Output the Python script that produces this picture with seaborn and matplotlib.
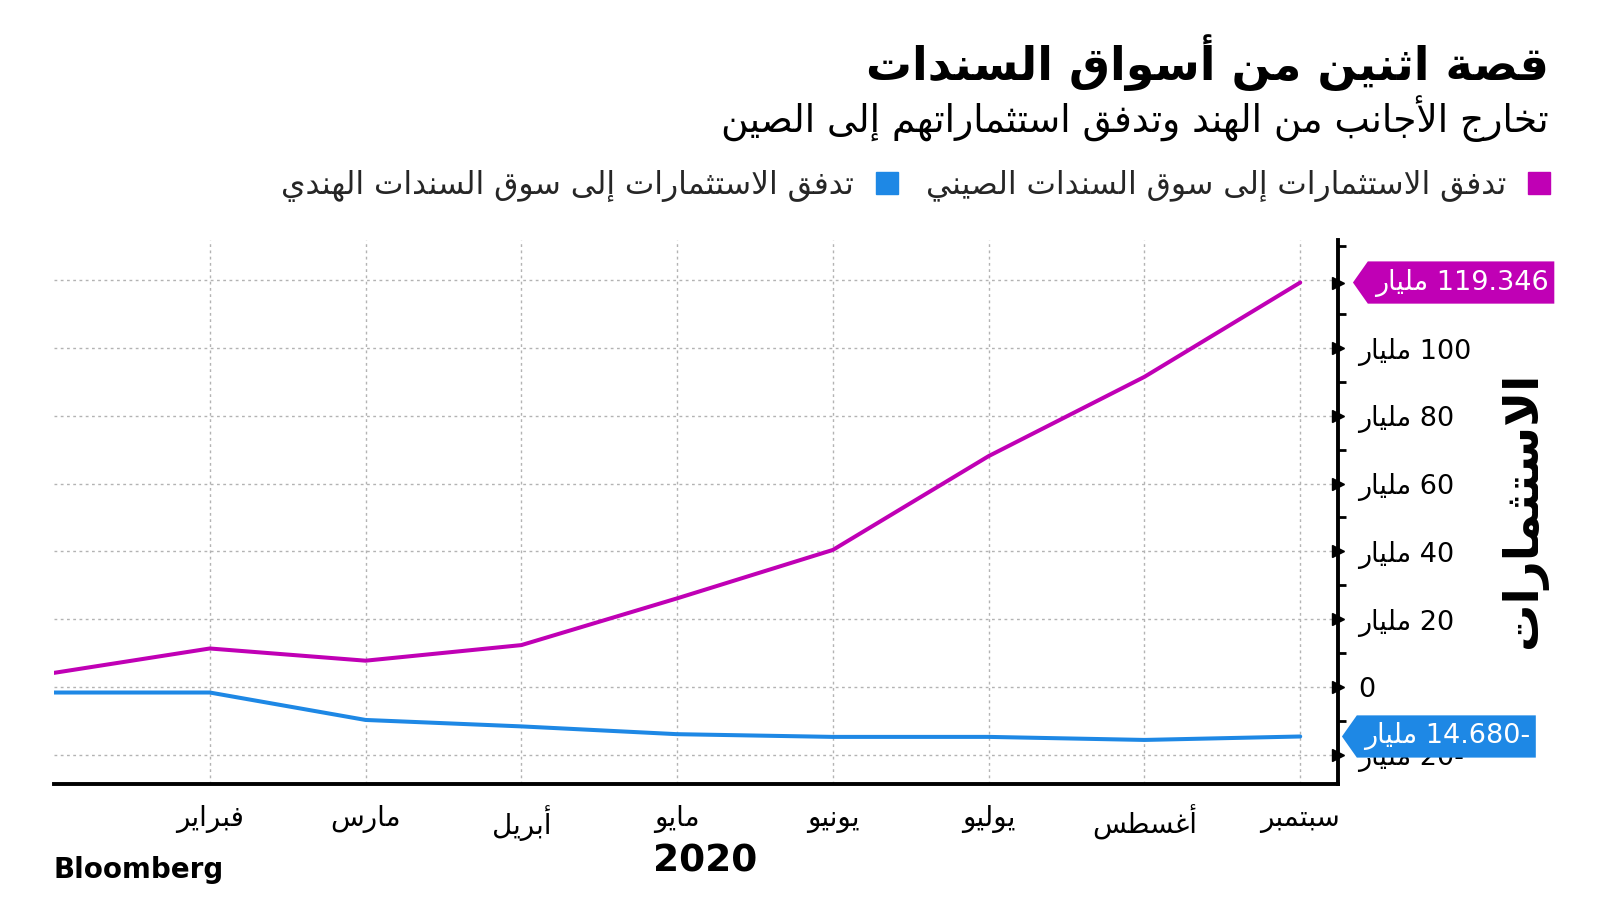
import matplotlib
matplotlib.use("Agg")

import matplotlib.pyplot as plt
import matplotlib.transforms as mtransforms
from matplotlib.patches import Patch
from matplotlib.path import Path
from matplotlib.ticker import FixedLocator
import pandas as pd
import seaborn as sns

# data (billions)
months = ["يناير", "فبراير", "مارس", "أبريل", "مايو", "يونيو", "يوليو", "أغسطس", "سبتمبر"]
china_flow = [4.1, 11.3, 7.7, 12.3, 26.1, 40.4, 68.1, 91.5, 119.346]
india_flow = [-1.7, -1.7, -9.8, -11.7, -14.0, -14.8, -14.8, -15.7, -14.680]
y_tick_values = [-20, 0, 20, 40, 60, 80, 100]
unit_word = "مليار"

title = "قصة اثنين من أسواق السندات"
subtitle = "تخارج الأجانب من الهند وتدفق استثماراتهم إلى الصين"
china_label = "تدفق الاستثمارات إلى سوق السندات الصيني"
india_label = "تدفق الاستثمارات إلى سوق السندات الهندي"
y_label = "الاستثمارات"
x_label = "2020"

MAGENTA = "#c000b5"
BLUE = "#1e88e5"

# --- minimal Arabic shaping, matplotlib does no joining / RTL ---
FORMS = {
    "ء": (0xFE80, 1), "آ": (0xFE81, 2), "أ": (0xFE83, 2), "ؤ": (0xFE85, 2),
    "إ": (0xFE87, 2), "ئ": (0xFE89, 4), "ا": (0xFE8D, 2), "ب": (0xFE8F, 4),
    "ة": (0xFE93, 2), "ت": (0xFE95, 4), "ث": (0xFE99, 4), "ج": (0xFE9D, 4),
    "ح": (0xFEA1, 4), "خ": (0xFEA5, 4), "د": (0xFEA9, 2), "ذ": (0xFEAB, 2),
    "ر": (0xFEAD, 2), "ز": (0xFEAF, 2), "س": (0xFEB1, 4), "ش": (0xFEB5, 4),
    "ص": (0xFEB9, 4), "ض": (0xFEBD, 4), "ط": (0xFEC1, 4), "ظ": (0xFEC5, 4),
    "ع": (0xFEC9, 4), "غ": (0xFECD, 4), "ف": (0xFED1, 4), "ق": (0xFED5, 4),
    "ك": (0xFED9, 4), "ل": (0xFEDD, 4), "م": (0xFEE1, 4), "ن": (0xFEE5, 4),
    "ه": (0xFEE9, 4), "و": (0xFEED, 2), "ى": (0xFEEF, 2), "ي": (0xFEF1, 4),
}
LAM_ALEF = {"آ": 0xFEF5, "أ": 0xFEF7, "إ": 0xFEF9, "ا": 0xFEFB}


def joins_next(u):
    return len(u) == 1 and u in FORMS and FORMS[u][1] == 4


def joins_prev(u):
    return len(u) == 2 or (u in FORMS and FORMS[u][1] >= 2)


def ar(text):
    units, i = [], 0
    while i < len(text):
        if text[i] == "ل" and i + 1 < len(text) and text[i + 1] in LAM_ALEF:
            units.append(text[i:i + 2])
            i += 2
        else:
            units.append(text[i])
            i += 1
    out = []
    for k, u in enumerate(units):
        prev = units[k - 1] if k > 0 else None
        nxt = units[k + 1] if k + 1 < len(units) else None
        p = prev is not None and joins_next(prev) and joins_prev(u)
        n = nxt is not None and joins_next(u) and joins_prev(nxt)
        if len(u) == 2:
            out.append(chr(LAM_ALEF[u[1]] + (1 if p else 0)))
        elif u in FORMS:
            base, nf = FORMS[u]
            if nf == 1:
                out.append(chr(base))
            elif nf == 2:
                out.append(chr(base + (1 if p else 0)))
            else:
                off = 3 if (p and n) else 1 if p else 2 if n else 0
                out.append(chr(base + off))
        else:
            out.append(u)
    return "".join(reversed(out))


def value_label(v, fmt="{:g}"):
    if v == 0:
        return "0"
    num = fmt.format(abs(v)) + ("-" if v < 0 else "")
    return ar(unit_word) + " " + num


def tag_box(x0, y0, width, height, mutation_size):
    # flag-shaped label with a point on the left
    yc = y0 + height / 2
    h = 0.78 * mutation_size
    left = x0 - 0.25 * mutation_size
    right = x0 + width + 0.22 * mutation_size
    tip = 0.55 * mutation_size
    verts = [(left - tip, yc), (left, yc - h), (right, yc - h),
             (right, yc + h), (left, yc + h), (left - tip, yc)]
    codes = [Path.MOVETO] + [Path.LINETO] * 4 + [Path.CLOSEPOLY]
    return Path(verts, codes)


sns.set_theme(style="white")
plt.rcParams["font.family"] = ["DejaVu Sans"]

df = pd.DataFrame({
    "month_idx": list(range(len(months))) * 2,
    "value": china_flow + india_flow,
    "series": ["china"] * len(months) + ["india"] * len(months),
})

fig = plt.figure(figsize=(16, 9.15), dpi=100)
ax = fig.add_axes([0.03375, 0.1432, 0.836 - 0.03375, 0.7377 - 0.1432])

sns.lineplot(data=df, x="month_idx", y="value", hue="series",
             palette={"china": MAGENTA, "india": BLUE}, linewidth=2.9,
             legend=False, ax=ax, zorder=3)

ax.set_xlim(0, 8.24)
ax.set_ylim(-28.7, 131.9)

for side in ["top", "left"]:
    ax.spines[side].set_visible(False)
for side in ["bottom", "right"]:
    ax.spines[side].set_color("black")
    ax.spines[side].set_linewidth(2.8)

ax.set_xticks(range(1, len(months)))
ax.set_xticklabels([ar(m) for m in months[1:]], fontsize=20)
ax.tick_params(axis="x", direction="out", length=6, width=2, color="black",
               pad=9, labelcolor="black")

ax.yaxis.tick_right()
ax.set_yticks(y_tick_values + [120])
ax.set_yticklabels([value_label(v) for v in y_tick_values] + [""], fontsize=19.5)
ax.yaxis.set_minor_locator(FixedLocator(list(range(-10, 140, 20))))
ax.tick_params(axis="y", which="major", length=0, pad=15, labelcolor="black")
ax.tick_params(axis="y", which="minor", right=True, left=False,
               direction="out", length=6, width=2, color="black")

ax.grid(True, which="major", linestyle=(0, (2, 2.5)), color="#b3b3b3", linewidth=1)
ax.set_xlabel("")
ax.set_ylabel("")

# triangle tick markers on the right spine
edge = mtransforms.blended_transform_factory(ax.transAxes, ax.transData)
ax.plot([1.0] * len(y_tick_values), y_tick_values, linestyle="none",
        marker=">", markersize=9, color="black", transform=edge,
        clip_on=False, zorder=5)
ax.plot([1.0], [china_flow[-1]], linestyle="none", marker=">", markersize=9,
        color="black", transform=edge, clip_on=False, zorder=5)

# last-value flags
for series, color, dx in [(china_flow, MAGENTA, 37), (india_flow, BLUE, 26)]:
    tr = mtransforms.offset_copy(edge, fig=fig, x=dx, y=0, units="dots")
    ax.text(1.0, series[-1], value_label(series[-1], "{:.3f}"), transform=tr,
            ha="left", va="center", color="white", fontsize=19.5, zorder=6,
            clip_on=False, bbox=dict(boxstyle=tag_box, fc=color, ec="none"))

# titles
fig.text(1549 / 1600, 1 - 63 / 915, ar(title), ha="right", va="center",
         fontsize=33, fontweight="bold", color="black")
fig.text(1549 / 1600, 1 - 119 / 915, ar(subtitle), ha="right", va="center",
         fontsize=27, color="black")

handles = [Patch(color=BLUE), Patch(color=MAGENTA)]
fig.legend(handles, [ar(india_label), ar(china_label)], markerfirst=False,
           ncol=2, loc="center right", bbox_to_anchor=(1550 / 1600, 1 - 186 / 915),
           frameon=False, fontsize=22.5, handlelength=0.7, handleheight=0.7,
           handletextpad=0.7, columnspacing=0.9, borderaxespad=0, borderpad=0)

fig.text(1523 / 1600, 1 - 510 / 915, ar(y_label), rotation=90, ha="center",
         va="center", fontsize=34, fontweight="bold", color="black")
fig.text(705 / 1600, 1 - 861 / 915, x_label, ha="center", va="center",
         fontsize=27, fontweight="bold", color="black")
fig.text(54 / 1600, 1 - 870 / 915, "Bloomberg", ha="left", va="center",
         fontsize=20, fontweight="bold", color="black")

fig.savefig("out.png", dpi=100)
plt.close(fig)
